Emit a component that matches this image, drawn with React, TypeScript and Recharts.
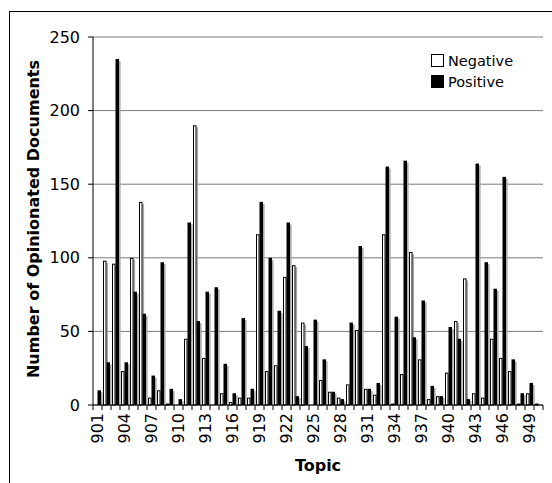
import { BarChart, Bar, XAxis, YAxis, CartesianGrid } from 'recharts'

const topics = [
  '901', '902', '903', '904', '905', '906', '907', '908', '909', '910',
  '911', '912', '913', '914', '915', '916', '917', '918', '919', '920',
  '921', '922', '923', '924', '925', '926', '927', '928', '929', '930',
  '931', '932', '933', '934', '935', '936', '937', '938', '939', '940',
  '941', '942', '943', '944', '945', '946', '947', '948', '949', '950',
]

const negative = [
  0, 98, 96, 23, 100, 138, 5, 10, 1, 0,
  45, 190, 32, 0, 8, 2, 5, 5, 116, 23,
  27, 87, 95, 56, 0, 17, 9, 5, 14, 51,
  11, 7, 116, 1, 21, 104, 31, 4, 6, 22,
  57, 86, 8, 5, 45, 32, 23, 1, 8, 1,
]

const positive = [
  10, 29, 235, 29, 77, 62, 20, 97, 11, 4,
  124, 57, 77, 80, 28, 8, 59, 11, 138, 100,
  64, 124, 6, 40, 58, 31, 9, 4, 56, 108,
  11, 15, 162, 60, 166, 46, 71, 13, 6, 53,
  45, 4, 164, 97, 79, 155, 31, 8, 15, 0,
]

const yTicks = [0, 50, 100, 150, 200, 250]

const series = [
  { key: 'negative', label: 'Negative', fill: '#fff' },
  { key: 'positive', label: 'Positive', fill: '#000' },
]

const data = topics.map((topic, i) => ({
  topic,
  negative: negative[i],
  positive: positive[i],
}))

const W = 552
const H = 483
const M = { top: 37, right: 9, left: 0, bottom: 0 }
const Y_AXIS_W = 93
const BAND = (W - Y_AXIS_W - M.right) / topics.length
const FONT = '"DejaVu Sans", Verdana, sans-serif'

function NegBar(props: any) {
  const { x, y, width, height } = props
  if (!height || height <= 0) return null
  return (
    <g>
      <rect x={x + width} y={y + 2} width={1.6} height={Math.max(height - 2, 0)} fill="#a8a8a8" />
      <rect x={x + 0.5} y={y + 0.5} width={width - 1} height={Math.max(height - 0.5, 0.5)} fill="#fff" stroke="#000" strokeWidth={1} />
    </g>
  )
}

function PosBar(props: any) {
  const { x, y, width, height } = props
  if (!height || height <= 0) return null
  return (
    <g>
      <rect x={x + width} y={y + 2} width={1.6} height={Math.max(height - 2, 0)} fill="#a8a8a8" />
      <rect x={x} y={y} width={width} height={height} fill="#000" />
    </g>
  )
}

function TopicTick(props: any) {
  const { x, y, payload, index } = props
  const axisY = y - 8
  const left = x - BAND / 2
  return (
    <g>
      <line x1={left} x2={left} y1={axisY} y2={axisY + 5} stroke="#000" />
      {index === topics.length - 1 && (
        <line x1={x + BAND / 2} x2={x + BAND / 2} y1={axisY} y2={axisY + 5} stroke="#000" />
      )}
      {index % 3 === 0 && (
        <text
          x={x}
          y={y}
          dy="0.35em"
          transform={`rotate(-90, ${x}, ${y})`}
          textAnchor="end"
          fontSize={16}
          fontFamily={FONT}
          fill="#000"
        >
          {payload.value}
        </text>
      )}
    </g>
  )
}

function YLabel(props: any) {
  const { viewBox } = props
  const cy = viewBox.y + viewBox.height / 2 - 2
  return (
    <text
      x={33}
      y={cy}
      dy="0.35em"
      transform={`rotate(-90, 33, ${cy})`}
      textAnchor="middle"
      fontSize={16}
      fontWeight="bold"
      fontFamily={FONT}
      fill="#000"
    >
      Number of Opinionated Documents
    </text>
  )
}

function XLabel(props: any) {
  const { viewBox } = props
  const cx = viewBox.x + viewBox.width / 2
  return (
    <text x={cx} y={471} textAnchor="middle" fontSize={16} fontWeight="bold" fontFamily={FONT} fill="#000">
      Topic
    </text>
  )
}

function LegendBox() {
  return (
    <div style={{ position: 'absolute', left: 431, top: 50 }}>
      {series.map((s) => (
        <div key={s.key} style={{ display: 'flex', alignItems: 'center', height: 21 }}>
          <span
            style={{
              display: 'inline-block',
              width: 11,
              height: 11,
              background: s.fill,
              border: '1px solid #000',
              marginRight: 4,
            }}
          />
          <span style={{ fontSize: 14.5, fontFamily: FONT, color: '#000' }}>{s.label}</span>
        </div>
      ))}
    </div>
  )
}

export default function App() {
  return (
    <div style={{ position: 'absolute', left: 0, top: 0, width: W, height: H, overflow: 'hidden', background: '#fff' }}>
      <div
        style={{
          position: 'absolute',
          left: 9,
          top: 11,
          width: 700,
          height: 700,
          borderLeft: '1px solid #000',
          borderTop: '1px solid #000',
        }}
      />
      <div style={{ position: 'absolute', left: 0, top: 0 }}>
        <BarChart width={W} height={H} data={data} margin={M} barGap={0} barCategoryGap={0}>
          <CartesianGrid vertical={false} stroke="#7a7a7a" />
          <XAxis
            dataKey="topic"
            interval={0}
            height={H - M.top - 368}
            tickLine={false}
            tickSize={5}
            tickMargin={3}
            axisLine={{ stroke: '#000' }}
            tick={<TopicTick />}
            label={<XLabel />}
          />
          <YAxis
            domain={[0, 250]}
            ticks={yTicks}
            interval={0}
            width={Y_AXIS_W}
            tickSize={5}
            tickMargin={8}
            axisLine={{ stroke: '#000' }}
            tickLine={{ stroke: '#000' }}
            tick={{ fill: '#000', fontSize: 16, fontFamily: FONT }}
            label={<YLabel />}
          />
          <YAxis
            yAxisId="frame"
            orientation="right"
            width={0}
            tick={false}
            tickLine={false}
            axisLine={{ stroke: '#8a8a8a' }}
          />
          <Bar dataKey="negative" name="Negative" barSize={3.5} shape={<NegBar />} isAnimationActive={false} />
          <Bar dataKey="positive" name="Positive" barSize={3.5} shape={<PosBar />} isAnimationActive={false} />
        </BarChart>
      </div>
      <LegendBox />
    </div>
  )
}
